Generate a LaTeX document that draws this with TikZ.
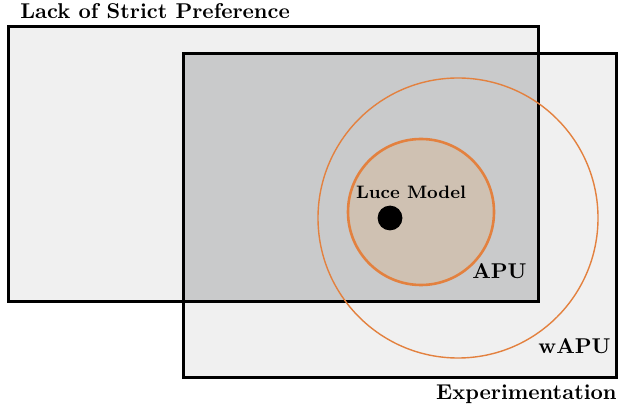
\documentclass[tikz,border=0pt]{standalone}
\usepackage{xcolor}
\usetikzlibrary{positioning}

\definecolor{paleGray}{HTML}{F0F0F0}
\definecolor{midGray}{HTML}{C9CACB}
\definecolor{luceTan}{HTML}{CFC1B2}
\definecolor{apuOrange}{HTML}{E3813F}

\tikzset{
  setbox/.style={draw=black, line width=1.5pt},
  setlabel/.style={font=\fontsize{10.7}{13}\selectfont\bfseries, inner sep=0pt},
}

\begin{document}
\begin{tikzpicture}[x=0.5pt, y=-0.5pt]
                \useasboundingbox (0,0) rectangle (619,410);
                % the two sets
                \coordinate (lackNW) at (8,27);
                \coordinate (lackSE) at (538,302);
                \coordinate (expNW) at (183,54);
                \coordinate (expSE) at (616,377);
                \fill[paleGray] (lackNW) rectangle (lackSE);
                \fill[paleGray] (expNW) rectangle (expSE);
                \fill[midGray] (expNW) rectangle (lackSE);
                \draw[setbox] (lackNW) rectangle (lackSE);
                \draw[setbox] (expNW) rectangle (expSE);
                % wAPU and APU
                \draw[apuOrange, line width=0.7pt] (458,218) circle[radius=70pt];
                \draw[apuOrange, line width=1.3pt, fill=luceTan] (421,212) circle[radius=36.5pt];
                \fill[black] (390,218) circle[radius=6.2pt];
                % labels
                \node (lack) [setlabel, anchor=base west] at (20,19) {Lack of Strict Preference};
                \node (luce) [setlabel, font=\bfseries\small, anchor=base] at (411,199) {Luce Model};
                \node (apu) [setlabel, anchor=base east] at (527,279) {APU};
                \node (wapu) [setlabel, anchor=base east] at (611,353) {wAPU};
                \node (exp) [setlabel, anchor=base east] at (617,399) {Experimentation};
            \end{tikzpicture}
\end{document}
